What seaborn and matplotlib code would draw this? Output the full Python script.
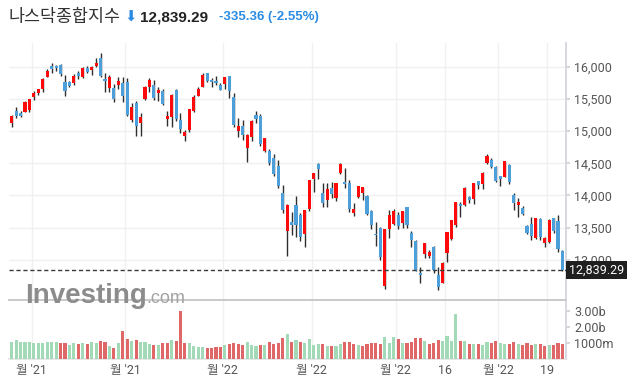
import numpy as np
import pandas as pd
import seaborn as sns
import matplotlib.pyplot as plt
from matplotlib.transforms import blended_transform_factory, offset_copy

# NASDAQ composite, daily, Oct 25 2021 .. Apr 22 2022
holidays = ['2021-11-25', '2021-12-24', '2022-01-17', '2022-02-21', '2022-04-15']
dates = pd.bdate_range('2021-10-25', '2022-04-22', freq='C', holidays=holidays)

open_ = [15130, 15312, 15280, 15302, 15325, 15534, 15585, 15658, 15845, 16011,
         16010, 16026, 15767, 15762, 15742, 15907, 15845, 15985, 15953, 16016,
         16130, 15809, 15674, 15669, 15715, 15740, 15762, 15172, 15431, 15121,
         15503, 15690, 15716, 15597, 15623, 15193, 15224, 15638, 15175, 14924,
         15017, 15317, 15550, 15690, 15897, 15793, 15780, 15720, 15736, 15856,
         15535, 15006, 15084, 14733, 14904, 15254, 15239, 14686, 14690, 14577,
         14458, 14034, 13453, 13593, 13852, 13697, 13402, 13785, 14256, 14489,
         14034, 13930, 14120, 13966, 14345, 14214, 14198, 13733, 13981, 14034,
         13992, 13759, 13402, 13490, 12587, 13475, 13557, 13697, 13577, 13816,
         13420, 13293, 12790, 13086, 13060, 13195, 12765, 12646, 13102, 13320,
         13542, 13875, 13852, 13972, 13940, 14220, 14178, 14500, 14551, 14447,
         14300, 14292, 14473, 14008, 13848, 13811, 13526, 13557, 13344, 13630,
         13267, 13283, 13645, 13604, 13138]
high = [15250, 15379, 15317, 15460, 15505, 15622, 15660, 15820, 15965, 16052,
        16030, 16042, 15871, 15783, 15882, 15933, 15990, 16006, 16011, 16130,
        16212, 15897, 15871, 15727, 15835, 15835, 15820, 15440, 15467, 15276,
        15705, 15820, 15793, 15680, 15650, 15312, 15576, 15649, 15276, 15016,
        15350, 15556, 15680, 15897, 15907, 15820, 15860, 15746, 15845, 15860,
        15587, 15199, 15172, 14950, 15165, 15312, 15265, 14900, 14720, 14640,
        14551, 14163, 13870, 13748, 13992, 13723, 13780, 14245, 14355, 14510,
        14189, 14189, 14214, 14200, 14500, 14420, 14240, 13890, 14145, 14130,
        14008, 13775, 13593, 13515, 13480, 13775, 13785, 13748, 13765, 13826,
        13448, 13310, 12894, 13267, 13150, 13215, 12894, 12960, 13440, 13620,
        13900, 13904, 14127, 13990, 14195, 14225, 14360, 14646, 14587, 14465,
        14310, 14540, 14490, 14034, 13956, 13830, 13542, 13671, 13650, 13645,
        13360, 13630, 13655, 13697, 13150]
low = [15068, 15198, 15214, 15290, 15300, 15483, 15560, 15602, 15835, 15907,
       15930, 15850, 15545, 15690, 15716, 15804, 15829, 15907, 15871, 16000,
       15845, 15602, 15602, 15457, 15649, 15447, 15230, 15146, 14929, 14929,
       15483, 15612, 15488, 15467, 15405, 15084, 15059, 15160, 14966, 14851,
       14985, 15300, 15540, 15685, 15755, 15680, 15715, 15638, 15649, 15509,
       15068, 14913, 14862, 14516, 14841, 15121, 14764, 14680, 14473, 14303,
       14112, 13733, 13065, 13386, 13360, 13298, 13205, 13764, 14059, 14251,
       13826, 13826, 13956, 13919, 14334, 14112, 13748, 13686, 13965, 13930,
       13697, 13474, 13220, 12998, 12555, 13335, 13542, 13474, 13500, 13500,
       13195, 12820, 12636, 13025, 13025, 12801, 12532, 12636, 12972, 13309,
       13515, 13661, 13840, 13879, 13870, 14096, 14096, 14490, 14430, 14205,
       14140, 14280, 14180, 13775, 13671, 13690, 13395, 13309, 13324, 13309,
       13195, 13260, 13413, 13127, 12830]
close = [15226.7, 15235.8, 15240.0, 15448.1, 15498.4, 15595.9, 15649.6, 15811.6, 15940.3, 15971.6,
         15982.4, 15886.5, 15622.7, 15704.3, 15861.0, 15853.9, 15973.9, 15921.6, 15993.7, 16057.4,
         15854.8, 15775.1, 15845.2, 15491.7, 15782.8, 15537.7, 15254.1, 15381.3, 15085.5, 15225.2,
         15686.9, 15787.0, 15517.4, 15630.6, 15413.3, 15237.6, 15565.6, 15180.4, 15030.0, 14980.9,
         15341.1, 15521.9, 15653.4, 15871.3, 15781.7, 15766.2, 15741.6, 15645.0, 15832.8, 15622.7,
         15100.2, 15080.9, 14935.9, 14942.8, 15153.5, 15188.4, 14806.8, 14893.8, 14506.9, 14340.3,
         14154.0, 13768.9, 13855.1, 13539.3, 13542.1, 13352.8, 13770.6, 14239.9, 14346.0, 14417.6,
         13878.8, 14098.0, 14015.7, 14194.5, 14490.4, 14185.6, 13791.2, 13790.9, 14139.8, 14124.1,
         13716.7, 13548.1, 13381.5, 13037.5, 13473.6, 13694.6, 13751.4, 13532.5, 13752.0, 13537.9,
         13313.4, 12831.0, 12760.0, 13255.6, 13130.0, 12843.8, 12581.2, 12948.6, 13436.6, 13614.8,
         13893.8, 13838.5, 14108.8, 13922.6, 14191.8, 14169.3, 14354.9, 14619.6, 14442.3, 14220.5,
         14261.5, 14532.6, 14204.2, 13888.8, 13897.3, 13711.0, 13412.0, 13371.6, 13643.6, 13351.1,
         13332.4, 13619.7, 13453.1, 13174.7, 12839.29]
# volume in billions
volume = [1.02, 1.15, 1.02, 1.02, 1.02, 0.96, 0.96, 0.96, 1.02, 1.02,
          1.02, 0.96, 0.96, 0.84, 0.96, 0.90, 0.96, 0.90, 1.02, 0.96,
          1.09, 1.02, 0.77, 0.69, 0.96, 1.71, 1.21, 1.09, 1.15, 1.02,
          1.02, 0.90, 0.84, 0.84, 0.96, 0.96, 1.15, 1.09, 2.96, 0.96,
          0.96, 0.78, 0.71, 0.71, 0.65, 0.65, 0.71, 0.71, 0.84, 0.90,
          0.96, 0.90, 0.84, 1.03, 0.84, 0.78, 0.84, 0.84, 1.03, 0.90,
          0.96, 1.28, 1.53, 1.03, 1.15, 1.03, 1.00, 1.21, 0.88, 0.94,
          0.90, 0.81, 0.81, 0.81, 0.90, 1.03, 1.03, 0.90, 0.84, 0.78,
          0.90, 0.96, 0.96, 0.90, 1.34, 0.96, 1.34, 1.21, 0.96, 0.96,
          1.03, 1.28, 1.28, 1.09, 0.90, 0.96, 1.15, 1.09, 1.40, 1.09,
          2.77, 1.09, 1.09, 0.90, 0.90, 0.90, 0.84, 1.03, 0.96, 1.09,
          0.96, 0.90, 0.90, 1.03, 0.90, 0.84, 0.96, 0.84, 0.90, 0.90,
          0.78, 0.84, 0.84, 0.96, 0.90]
prev_close = 15090.0

tick_dates = ['2021-11-01', '2021-12-01', '2022-01-03', '2022-02-01',
              '2022-03-01', '2022-03-16', '2022-04-01', '2022-04-19']
tick_labels = ["월 '21", "월 '21", "월 '22", "월 '22", "월 '22", "16", "월 '22", "19"]
price_ticks = [13000, 13500, 14000, 14500, 15000, 15500, 16000]
vol_ticks = [1e9, 2e9, 3e9]
vol_tick_labels = ['1000m', '2.00b', '3.00b']

title = '나스닥종합지수'
change = '-335.36 (-2.55%)'

RED, BLUE = '#ff0a0a', '#4d9fda'
VGREEN, VRED = '#a2d9b6', '#e06767'
TXT = '#555555'

df = pd.DataFrame({'date': dates, 'open': open_, 'high': high, 'low': low,
                   'close': close, 'volume': np.array(volume) * 1e9})
df['i'] = np.arange(len(df))
df['rising'] = df['close'] >= df['open']
chg = df['close'].diff().fillna(df['close'].iloc[0] - prev_close)
df['vol_dir'] = np.where(chg >= 0, 'up', 'down')
last = df['close'].iloc[-1]

sns.set_theme(style='white')
plt.rcParams['font.family'] = ['Roboto', 'Noto Sans CJK KR', 'DejaVu Sans']

W, H = 635, 386
fig = plt.figure(figsize=(W / 100, H / 100), dpi=100)

def px_box(x0, y0, x1, y1):
    return [x0 / W, 1 - y1 / H, (x1 - x0) / W, (y1 - y0) / H]

ax = fig.add_axes(px_box(9, 43, 566, 300))
vax = fig.add_axes(px_box(9, 301, 566, 358.7))

# candles
body_lo = np.minimum(df['open'], df['close'])
body_h = np.maximum((df['close'] - df['open']).abs(), 12)
ax.vlines(df['i'], df['low'], df['high'], color='#2e2e2e', lw=1, zorder=2)
ax.bar(df['i'], body_h, bottom=body_lo, width=0.7, linewidth=0,
       color=np.where(df['rising'], RED, BLUE), zorder=3)

# volume
sns.barplot(data=df, x='i', y='volume', hue='vol_dir',
            palette={'up': VGREEN, 'down': VRED}, native_scale=True,
            dodge=False, width=0.7, errorbar=None, saturation=1,
            legend=False, linewidth=0, ax=vax, zorder=3)

xlim = (-0.61, 124.79)
tick_pos = [df.index[df['date'] == pd.Timestamp(d)][0] - 0.5 for d in tick_dates]

for a in (ax, vax):
    a.set_xlim(*xlim)
    a.set_xticks(tick_pos)
    a.grid(axis='x', color='#f0f0f0', lw=1)
    a.set_axisbelow(True)
    a.yaxis.tick_right()
    a.set_xlabel('')
    a.set_ylabel('')
    a.spines['left'].set_visible(False)
    a.spines['top'].set_visible(False)
    a.spines['right'].set_color('#d3d3dc')
    a.tick_params(axis='y', length=3, color='#cfcfd6', pad=3,
                  labelsize=9, labelcolor=TXT)

ax.set_ylim(12377, 16368)
ax.set_yticks(price_ticks)
ax.set_yticklabels([f'{v:,}' for v in price_ticks])
ax.grid(axis='y', color='#f0f0f0', lw=1)
ax.tick_params(axis='x', length=0, labelbottom=False)
ax.spines['bottom'].set_color('#c2c2c2')

vax.set_ylim(0, 3.6e9)
vax.set_yticks(vol_ticks)
vax.set_yticklabels(vol_tick_labels)
vax.set_xticklabels(tick_labels)
vax.tick_params(axis='x', length=3, color='#d0d0d0', pad=1,
                labelsize=9, labelcolor=TXT)
vax.spines['bottom'].set_color('#e4e4e4')

# last price line + tag
ax.axhline(last, color='#3a3a3a', lw=1, ls=(0, (3, 2)), zorder=4)
tag_tr = offset_copy(blended_transform_factory(ax.transAxes, ax.transData),
                     fig=fig, x=2.5, y=0, units='dots')
ax.text(1.0, last, f'{last:,.2f}', transform=tag_tr, ha='left', va='center',
        color='white', fontsize=9, clip_on=False, zorder=10,
        bbox=dict(boxstyle='square,pad=0.22', fc='#1f1f1f', ec='none'))

# watermark
fig.text(25 / W, 1 - 303 / H, 'Investing', fontsize=20, fontweight='bold',
         color='#8c8c8c', family='Liberation Sans', va='baseline')
fig.text(146 / W, 1 - 303 / H, '.com', fontsize=13, color='#a3a3a3',
         family='Liberation Sans', va='baseline')

# header
fig.text(8 / W, 1 - 17 / H, title, fontsize=12.5, color='#333333',
         family=['Noto Sans CJK KR', 'DejaVu Sans'], va='center')
fig.text(124 / W, 1 - 17 / H, '⬇', fontsize=10.5, color='#2b8be3',
         family=['DejaVu Sans'], va='center')
fig.text(140 / W, 1 - 17 / H, f'{last:,.2f}', fontsize=11, fontweight='bold',
         color='#222222', family='Liberation Sans', va='center')
fig.text(219 / W, 1 - 17 / H, change, fontsize=9.5, fontweight='bold',
         color='#2b8be3', family='Liberation Sans', va='center')

fig.savefig('out.png', dpi=100)
